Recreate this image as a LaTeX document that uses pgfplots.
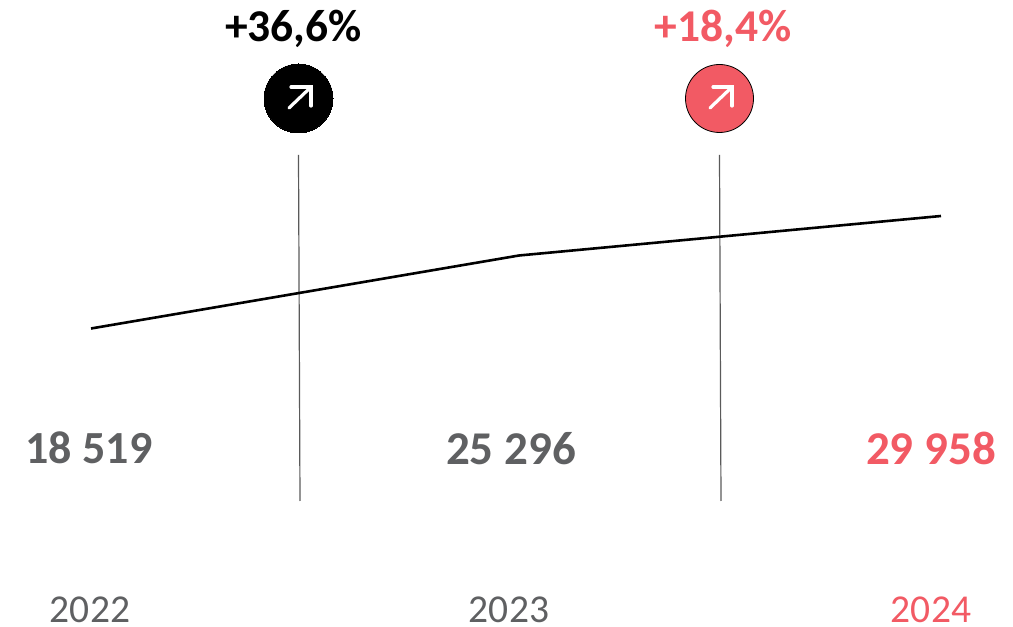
\documentclass[border=0pt]{standalone}
\usepackage{pgfplots}
\pgfplotsset{compat=1.18}
\usepackage{fontspec}
\setmainfont{Carlito}
\definecolor{tgray}{HTML}{5F6062}
\definecolor{tred}{HTML}{F25A64}
\definecolor{vline}{HTML}{5A5A5A}
\begin{document}
\begin{tikzpicture}
\begin{axis}[
  scale only axis, width=1013pt, height=627pt,
  xmin=0, xmax=1013, ymin=0, ymax=627, y dir=reverse,
  hide axis, clip=false, set layers=standard,
]
\path (axis cs:0,0) rectangle (axis cs:1013,627);
% reference lines
\addplot[vline, line width=1.2pt] coordinates {(298.5,155) (300,501)};
\addplot[vline, line width=1.2pt] coordinates {(719.5,155) (721,501)};
% main line
\addplot[black, line width=2.6pt] coordinates {(91,328.5) (519,255.5) (941,216)};
% circles
\addplot[only marks, mark=*, mark size=34.5pt, mark options={fill=black, draw=black, line width=0pt}] coordinates {(298.5,98.5)};
\addplot[only marks, mark=*, mark size=34pt, mark options={fill=tred, draw=black, line width=0.8pt}] coordinates {(719.5,98.5)};
% arrows
\addplot[on layer=axis foreground, white, line width=3.2pt, line cap=round] coordinates {(289,108) (311,87)};
\addplot[on layer=axis foreground, white, line width=3.2pt, line cap=round] coordinates {(291,87) (311,87) (311,106)};
\addplot[on layer=axis foreground, white, line width=3.2pt, line cap=round] coordinates {(710,108) (732,87)};
\addplot[on layer=axis foreground, white, line width=3.2pt, line cap=round] coordinates {(713,87) (732,87) (732,106)};
% texts
\node[anchor=base, inner sep=0pt, text=black] at (axis cs:293.5,42) {\fontsize{45.5}{45.5}\selectfont\bfseries +36,6\%};
\node[anchor=base, inner sep=0pt, text=tred] at (axis cs:723,42) {\fontsize{45.5}{45.5}\selectfont\bfseries +18,4\%};
\node[anchor=base, inner sep=0pt, text=tgray] at (axis cs:89,464) {\fontsize{46}{46}\selectfont\bfseries 18 519};
\node[anchor=base, inner sep=0pt, text=tgray] at (axis cs:511,465) {\fontsize{47}{47}\selectfont\bfseries 25 296};
\node[anchor=base, inner sep=0pt, text=tred] at (axis cs:931,465) {\fontsize{47}{47}\selectfont\bfseries 29 958};
\node[anchor=base, inner sep=0pt, text=tgray] at (axis cs:90,623) {\fontsize{39.5}{39.5}\selectfont 2022};
\node[anchor=base, inner sep=0pt, text=tgray] at (axis cs:509,623) {\fontsize{39.5}{39.5}\selectfont 2023};
\node[anchor=base, inner sep=0pt, text=tred] at (axis cs:931,623) {\fontsize{39.5}{39.5}\selectfont 2024};
\end{axis}
\end{tikzpicture}
\end{document}
